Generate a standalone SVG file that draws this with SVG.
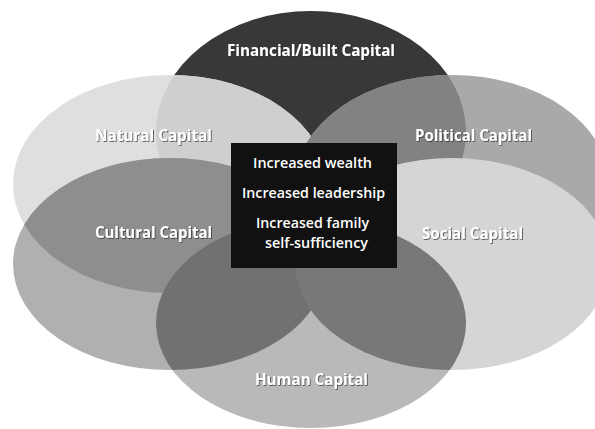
<svg xmlns="http://www.w3.org/2000/svg" xmlns:xlink="http://www.w3.org/1999/xlink" width="595" height="429" viewBox="0 0 595 429">
<style>
  .lbl { font-family: "Open Sans", "Liberation Sans", sans-serif; font-weight: 700; font-size: 16px; fill: #ffffff; text-anchor: middle; filter: url(#sh); }
  .box { font-family: "Open Sans", "Liberation Sans", sans-serif; font-weight: 600; font-size: 14.5px; fill: #ffffff; text-anchor: middle; }
  .f { fill: #383838; }
  .n { fill: #dfdfdf; }
  .nf { fill: #cfcfcf; }
  .p { fill: #a9a9a9; }
  .pf { fill: #828282; }
  .c { fill: #b0b0b0; }
  .nc { fill: #8e8e8e; }
  .s { fill: #d5d5d5; }
  .h { fill: #b9b9b9; }
  .hc { fill: #717171; }
  .hs { fill: #787878; }
</style>
<defs>
  <ellipse id="eF" cx="311" cy="132" rx="155" ry="121"/>
  <ellipse id="eN" cx="170" cy="184" rx="157" ry="109"/>
  <ellipse id="eP" cx="452" cy="184" rx="157" ry="109"/>
  <ellipse id="eC" cx="170" cy="264" rx="157" ry="106"/>
  <ellipse id="eS" cx="452" cy="264" rx="157" ry="106"/>
  <ellipse id="eH" cx="311" cy="323" rx="155" ry="105"/>
  <clipPath id="clipF"><use xlink:href="#eF"/></clipPath>
  <clipPath id="clipN"><use xlink:href="#eN"/></clipPath>
  <clipPath id="clipC"><use xlink:href="#eC"/></clipPath>
  <clipPath id="clipS"><use xlink:href="#eS"/></clipPath>
  <filter id="sh" x="-10%" y="-40%" width="120%" height="180%">
    <feDropShadow dx="0.8" dy="0.8" stdDeviation="0.6" flood-color="#2a2a2a" flood-opacity="0.85"/>
  </filter>
</defs>
<rect width="595" height="429" fill="#ffffff"/>

<g id="financial">
  <use xlink:href="#eF" class="f"/>
  <text class="lbl" x="311" y="56" textLength="168" lengthAdjust="spacingAndGlyphs">Financial/Built Capital</text>
</g>
<g id="natural">
  <use xlink:href="#eN" class="n"/>
  <use xlink:href="#eN" class="nf" clip-path="url(#clipF)"/>
  <text class="lbl" x="153.5" y="141" textLength="117" lengthAdjust="spacingAndGlyphs">Natural Capital</text>
</g>
<g id="political">
  <use xlink:href="#eP" class="p"/>
  <use xlink:href="#eP" class="pf" clip-path="url(#clipF)"/>
  <text class="lbl" x="473.5" y="141" textLength="117" lengthAdjust="spacingAndGlyphs">Political Capital</text>
</g>
<g id="cultural">
  <use xlink:href="#eC" class="c"/>
  <use xlink:href="#eC" class="nc" clip-path="url(#clipN)"/>
  <text class="lbl" x="153.5" y="238" textLength="117" lengthAdjust="spacingAndGlyphs">Cultural Capital</text>
</g>
<g id="social">
  <use xlink:href="#eS" class="s"/>
  <text class="lbl" x="472.5" y="239" textLength="101" lengthAdjust="spacingAndGlyphs">Social Capital</text>
</g>
<g id="human">
  <use xlink:href="#eH" class="h"/>
  <use xlink:href="#eH" class="hc" clip-path="url(#clipC)"/>
  <use xlink:href="#eH" class="hs" clip-path="url(#clipS)"/>
  <text class="lbl" x="311.5" y="385" textLength="113" lengthAdjust="spacingAndGlyphs">Human Capital</text>
</g>
<g id="outcomes">
  <rect x="231" y="143" width="166" height="125" fill="#111111"/>
  <text class="box" x="312.5" y="168" textLength="119" lengthAdjust="spacingAndGlyphs">Increased wealth</text>
  <text class="box" x="313.5" y="198" textLength="143" lengthAdjust="spacingAndGlyphs">Increased leadership</text>
  <text class="box" x="312.5" y="227.5" textLength="113" lengthAdjust="spacingAndGlyphs">Increased family</text>
  <text class="box" x="316.5" y="247.5" textLength="103" lengthAdjust="spacingAndGlyphs">self-sufficiency</text>
</g>
<g id="connectors"></g>
</svg>
